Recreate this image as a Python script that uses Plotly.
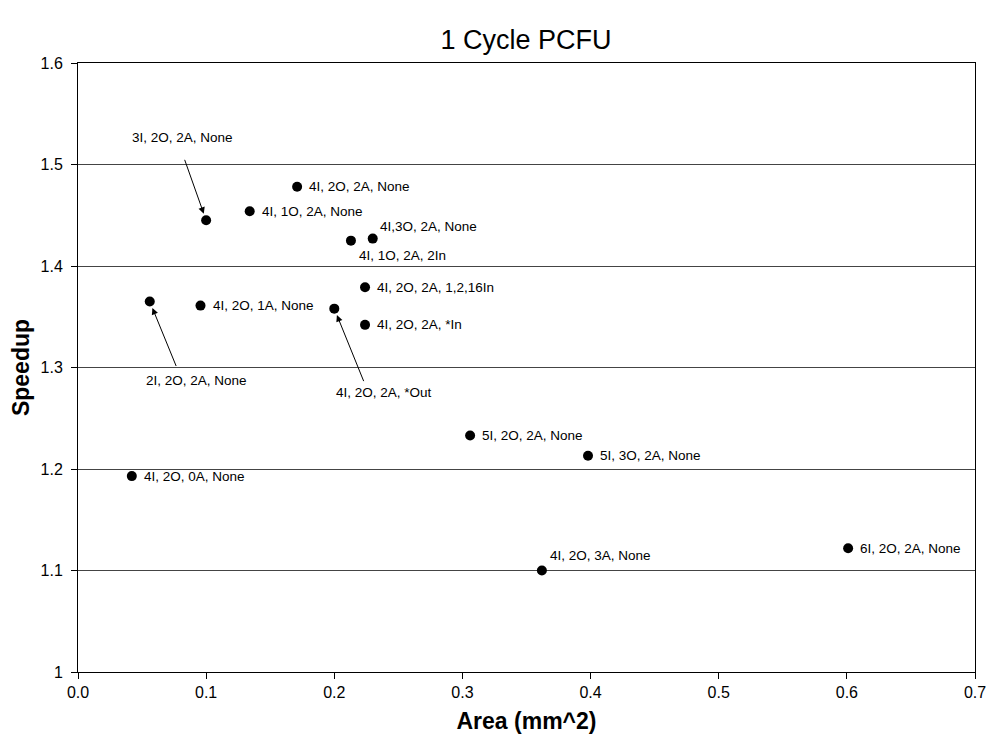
import plotly.graph_objects as go

area = [0.100, 0.171, 0.134, 0.213, 0.230, 0.224, 0.224, 0.200, 0.0956, 0.056, 0.042, 0.306, 0.398, 0.362, 0.601]
speedup = [1.445, 1.478, 1.454, 1.425, 1.427, 1.379, 1.342, 1.358, 1.361, 1.365, 1.193, 1.233, 1.213, 1.100, 1.122]
labels = ["3I, 2O, 2A, None", "4I, 2O, 2A, None", "4I, 1O, 2A, None", "4I, 1O, 2A, 2In",
          "4I,3O, 2A, None", "4I, 2O, 2A, 1,2,16In", "4I, 2O, 2A, *In", "4I, 2O, 2A, *Out",
          "4I, 2O, 1A, None", "2I, 2O, 2A, None", "4I, 2O, 0A, None", "5I, 2O, 2A, None",
          "5I, 3O, 2A, None", "4I, 2O, 3A, None", "6I, 2O, 2A, None"]

# label placement styles: (xanchor, xshift px, yshift px, arrow tail offset or None)
placement = [
    ("center", -24, 83, (-22, -62)),
    ("left", 10, 0, None),
    ("left", 10, 0, None),
    ("left", 6, -15, None),
    ("left", 5, 12, None),
    ("left", 10, 0, None),
    ("left", 10, 0, None),
    ("center", 50, -84, (30, 74)),
    ("left", 10, 0, None),
    ("center", 47, -79, (27, 66)),
    ("left", 10, 0, None),
    ("left", 10, 0, None),
    ("left", 10, 0, None),
    ("left", 6, 15, None),
    ("left", 10, 0, None),
]

FONT = "Liberation Sans, Arial, sans-serif"
LABEL_SIZE = 13.5

fig = go.Figure()
fig.add_trace(go.Scatter(
    x=area, y=speedup, mode="markers",
    marker=dict(color="black", size=10, symbol="circle"),
    showlegend=False, hoverinfo="x+y"
))

annotations = []
for xv, yv, lab, (xa, xs, ys, arrow) in zip(area, speedup, labels, placement):
    annotations.append(dict(
        x=xv, y=yv, xref="x", yref="y", text=lab, showarrow=False,
        xanchor=xa, yanchor="middle", xshift=xs, yshift=ys,
        font=dict(family=FONT, size=LABEL_SIZE, color="black")
    ))
    if arrow is not None:
        annotations.append(dict(
            x=xv, y=yv, xref="x", yref="y", text="", showarrow=True,
            ax=arrow[0], ay=arrow[1],
            arrowhead=2, arrowsize=1.3, arrowwidth=1, arrowcolor="black",
            standoff=7
        ))

fig.update_layout(
    width=998, height=755,
    margin=dict(l=78, r=19, t=63, b=83),
    paper_bgcolor="white", plot_bgcolor="white",
    font=dict(family=FONT, color="black"),
    title=dict(text="1 Cycle PCFU", x=0.527, xanchor="center", y=0.947, yanchor="middle",
               font=dict(family=FONT, size=27, color="black")),
    xaxis=dict(
        range=[0, 0.7], dtick=0.1, tick0=0, tickformat=".1f",
        showgrid=False, zeroline=False,
        showline=True, linecolor="black", linewidth=1, mirror=True,
        ticks="outside", ticklen=6, tickcolor="black",
        tickfont=dict(family=FONT, size=16, color="black"),
        title=dict(text="<b>Area (mm^2)</b>", font=dict(family=FONT, size=23, color="black"), standoff=12),
    ),
    yaxis=dict(
        range=[1, 1.6], dtick=0.1, tick0=1,
        showgrid=True, gridcolor="#444444", gridwidth=1, zeroline=False,
        showline=True, linecolor="black", linewidth=1, mirror=True,
        ticks="outside", ticklen=6, tickcolor="black", ticklabelstandoff=5,
        tickfont=dict(family=FONT, size=16, color="black"),
        title=dict(text="<b>Speedup</b>", font=dict(family=FONT, size=23, color="black"), standoff=4),
    ),
    annotations=annotations,
)

fig.write_html("out.html")
